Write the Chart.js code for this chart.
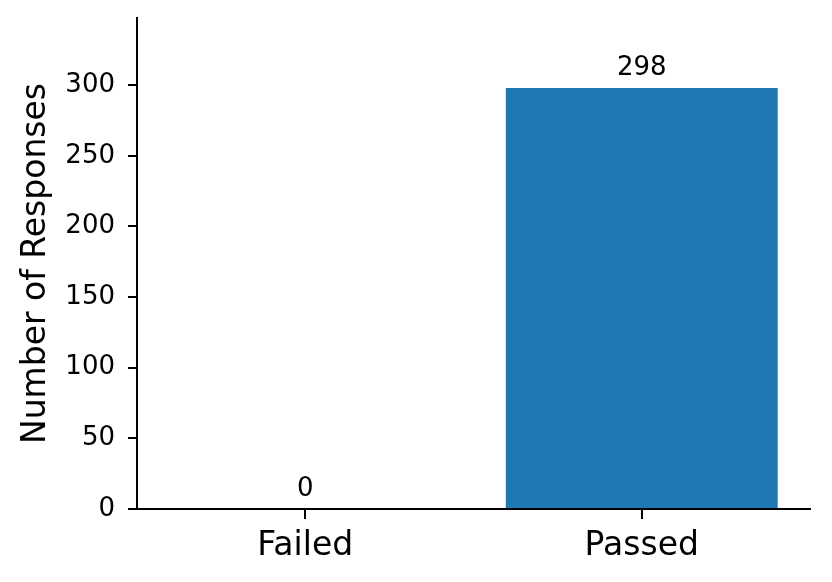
<!DOCTYPE html>
<html>
<head>
<meta charset="utf-8">
<script src="https://cdn.jsdelivr.net/npm/chart.js@4"></script>
<style>
html,body{margin:0;padding:0;background:#fff;}
#wrap{width:832px;height:582px;position:relative;}
</style>
</head>
<body>
<div id="wrap"><canvas id="c" width="832" height="582"></canvas></div>
<script>
const categories = ["Failed", "Passed"];
const responses = [0, 298];
const yTicks = [0, 50, 100, 150, 200, 250, 300];
const yTitle = "Number of Responses";
const FONT = "'DejaVu Sans', sans-serif";

const valueLabels = {
  id: 'valueLabels',
  afterDraw(chart) {
    const ctx = chart.ctx;
    const meta = chart.getDatasetMeta(0);
    const xs = chart.scales.x;
    ctx.save();
    // x tick marks at the scale's own tick positions
    ctx.strokeStyle = "#000";
    ctx.lineWidth = 2;
    xs.ticks.forEach((t, i) => {
      const px = Math.round(xs.getPixelForTick(i));
      ctx.beginPath();
      ctx.moveTo(px, xs.top);
      ctx.lineTo(px, xs.top + 10);
      ctx.stroke();
    });
    ctx.font = "26px " + FONT;
    ctx.fillStyle = "#000";
    ctx.textAlign = "center";
    ctx.textBaseline = "alphabetic";
    meta.data.forEach((bar, i) => {
      ctx.fillText(String(responses[i]), bar.x, bar.y - 13);
    });
    ctx.restore();
  }
};

new Chart(document.getElementById('c'), {
  type: 'bar',
  data: {
    labels: categories,
    datasets: [{
      data: responses,
      backgroundColor: '#1f77b4',
      borderWidth: 0,
      barPercentage: 0.808,
      categoryPercentage: 1.0
    }]
  },
  options: {
    responsive: false,
    animation: false,
    devicePixelRatio: 1,
    layout: {padding: {left: 0, top: 18, right: 22, bottom: 0}},
    plugins: {legend: {display: false}, tooltip: {enabled: false}},
    scales: {
      x: {
        type: 'category',
        offset: true,
        afterFit: (s) => { s.height = 73; },
        grid: {display: true, offset: false, drawOnChartArea: false, drawTicks: true, tickLength: 10, color: '#000', lineWidth: 2},
        border: {display: true, color: '#000', width: 2},
        ticks: {font: {family: FONT, size: 33}, color: '#000', padding: 8, maxRotation: 0, autoSkip: false}
      },
      y: {
        min: 0, max: 347.5,
        afterBuildTicks: (s) => { s.ticks = yTicks.map(v => ({value: v})); },
        afterFit: (s) => { s.width = 137; s.paddingTop = 0; s.paddingBottom = 0; },
        grid: {display: true, drawOnChartArea: false, drawTicks: true, tickLength: 9, color: '#000', lineWidth: 2},
        border: {display: true, color: '#000', width: 2},
        ticks: {font: {family: FONT, size: 26}, color: '#000', padding: 13, autoSkip: false},
        title: {display: true, text: yTitle, font: {family: FONT, size: 33}, color: '#000', padding: {top: 17, bottom: 0}}
      }
    }
  },
  plugins: [valueLabels]
});
</script>
</body>
</html>
